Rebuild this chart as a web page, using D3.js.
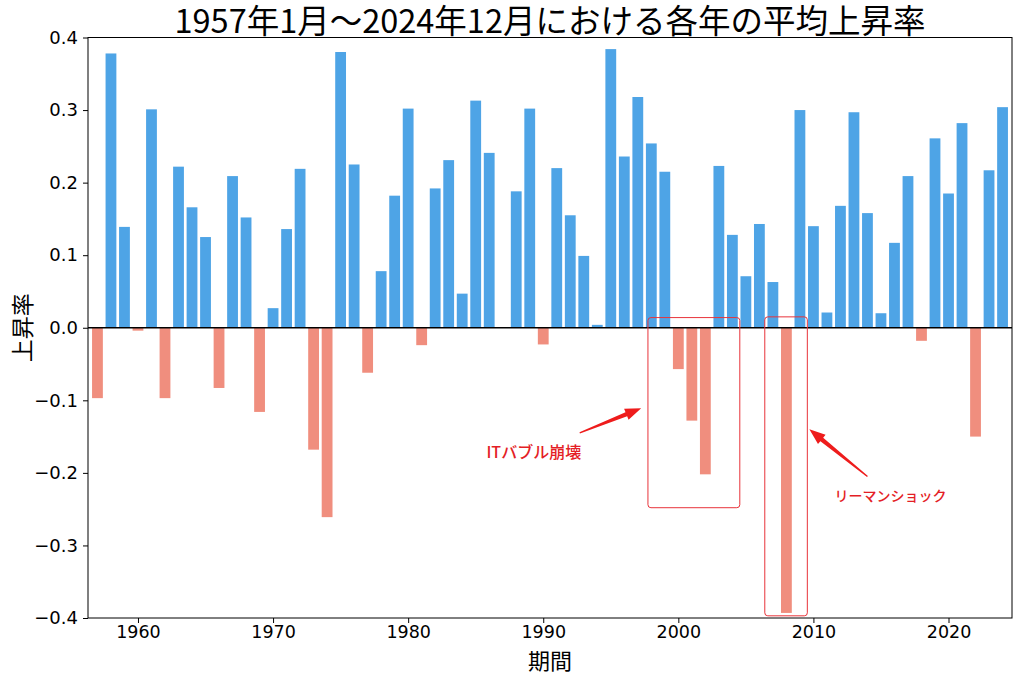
<!DOCTYPE html>
<html>
<head>
<meta charset="utf-8">
<script src="https://cdn.jsdelivr.net/npm/d3@7"></script>
<style>
  body { margin: 0; background: #fff; }
  svg text { font-family: "DejaVu Sans", sans-serif; }
  .jp { font-family: "Noto Sans CJK JP", sans-serif; }
</style>
</head>
<body>
<svg id="chart" width="1024" height="680"></svg>
<script>
// years 1957..2024 and average monthly rise per year
var years = d3.range(1957, 2025);
var rates = [
  -0.097, 0.378, 0.139, -0.004, 0.301, -0.097, 0.222, 0.166, 0.125, -0.083,
  0.209, 0.152, -0.116, 0.027, 0.136, 0.219, -0.168, -0.261, 0.380, 0.225,
  -0.062, 0.078, 0.182, 0.302, -0.024, 0.192, 0.231, 0.047, 0.313, 0.241,
  0.000, 0.188, 0.302, -0.023, 0.220, 0.155, 0.099, 0.004, 0.384, 0.236,
  0.318, 0.254, 0.215, -0.057, -0.128, -0.202, 0.223, 0.128, 0.071, 0.143,
  0.063, -0.393, 0.300, 0.140, 0.021, 0.168, 0.297, 0.158, 0.020, 0.117,
  0.209, -0.018, 0.261, 0.185, 0.282, -0.150, 0.217, 0.304
];
var xTicks = [1960, 1970, 1980, 1990, 2000, 2010, 2020];
var yTicks = [0.4, 0.3, 0.2, 0.1, 0.0, -0.1, -0.2, -0.3, -0.4];

// highlight boxes [x0, x1, yTop, yBottom] in data units
var boxes = [
  [1997.75, 2004.55, 0.014, -0.248],
  [2006.4, 2009.55, 0.015, -0.397]
];
// annotations: label, text position, arrow tail, arrow head (data units)
var notes = [
  { label: "ITバブル崩壊", size: 16, tx: 1989.3, ty: -0.179, from: [1992.7, -0.145], to: [1997.25, -0.111] },
  { label: "リーマンショック", size: 14, tx: 2015.7, ty: -0.239, from: [2014.0, -0.205], to: [2009.7, -0.140] }
];

var svg = d3.select("#chart");
var mLeft = 88, mRight = 1012, mTop = 37.5, mBottom = 618;

var x = d3.scaleLinear().domain([1956.3, 2024.7]).range([mLeft, mRight]);
var y = d3.scaleLinear().domain([-0.4, 0.4]).range([mBottom, mTop]);
var barW = x(1957.8) - x(1957);

var bars = svg.append("g");
bars.selectAll("rect")
  .data(years)
  .enter()
  .append("rect")
  .attr("x", function (d) { return x(d) - barW / 2; })
  .attr("width", barW)
  .attr("y", function (d, i) { return y(Math.max(0, rates[i])); })
  .attr("height", function (d, i) { return Math.abs(y(rates[i]) - y(0)); })
  .attr("fill", function (d, i) { return rates[i] >= 0 ? "#4ea4e6" : "#f08e7e"; });

// zero line
svg.append("line")
  .attr("x1", mLeft).attr("x2", mRight)
  .attr("y1", y(0)).attr("y2", y(0))
  .attr("stroke", "#000").attr("stroke-width", 1.6);

// axes
var xAxis = d3.axisBottom(x).tickValues(xTicks).tickFormat(d3.format("d")).tickSizeOuter(0).tickSize(5).tickPadding(3);
var yAxis = d3.axisLeft(y).tickValues(yTicks).tickFormat(function (d) {
  return d3.format(".1f")(d).replace("-", "\u2212");
}).tickSizeOuter(0).tickSize(5).tickPadding(5);

var gx = svg.append("g").attr("transform", "translate(0," + mBottom + ")").call(xAxis);
var gy = svg.append("g").attr("transform", "translate(" + mLeft + ",0)").call(yAxis);
gx.selectAll("text").attr("font-size", 17.5).attr("font-family", "Noto Sans CJK JP");
gy.selectAll("text").attr("font-size", 18).attr("font-family", "DejaVu Sans");
[gx, gy].forEach(function (g) {
  g.selectAll("text").attr("fill", "#000");
  g.selectAll("line").attr("stroke", "#000");
  g.select(".domain").remove();
});

// frame
svg.append("rect")
  .attr("x", mLeft).attr("y", mTop)
  .attr("width", mRight - mLeft).attr("height", mBottom - mTop)
  .attr("fill", "none").attr("stroke", "#000").attr("stroke-width", 1);

// titles
svg.append("text").attr("class", "jp")
  .attr("x", (mLeft + mRight) / 2).attr("y", 33)
  .attr("text-anchor", "middle").attr("font-size", 32.5)
  .text("1957年1月～2024年12月における各年の平均上昇率");
svg.append("text").attr("class", "jp")
  .attr("x", (mLeft + mRight) / 2).attr("y", 669)
  .attr("text-anchor", "middle").attr("font-size", 22)
  .text("期間");
svg.append("text").attr("class", "jp")
  .attr("transform", "translate(31," + y(0) + ") rotate(-90)")
  .attr("text-anchor", "middle").attr("font-size", 23)
  .text("上昇率");

// highlight boxes
svg.append("g").selectAll("rect")
  .data(boxes)
  .enter()
  .append("rect")
  .attr("x", function (d) { return x(d[0]); })
  .attr("y", function (d) { return y(d[2]); })
  .attr("width", function (d) { return x(d[1]) - x(d[0]); })
  .attr("height", function (d) { return y(d[3]) - y(d[2]); })
  .attr("rx", 3)
  .attr("fill", "none").attr("stroke", "#e8333a").attr("stroke-width", 1);

// arrows as tapered wedges
function wedge(p0, p1) {
  var dx = p1[0] - p0[0], dy = p1[1] - p0[1];
  var len = Math.sqrt(dx * dx + dy * dy);
  var ux = dx / len, uy = dy / len, nx = -uy, ny = ux;
  var headL = 16, headW = 6, tailW = 0.7, shaftW = 2.2;
  var bx = p1[0] - ux * headL, by = p1[1] - uy * headL;
  var pts = [
    [p0[0] + nx * tailW, p0[1] + ny * tailW],
    [bx + nx * shaftW, by + ny * shaftW],
    [bx + nx * headW, by + ny * headW],
    p1,
    [bx - nx * headW, by - ny * headW],
    [bx - nx * shaftW, by - ny * shaftW],
    [p0[0] - nx * tailW, p0[1] - ny * tailW]
  ];
  return "M" + pts.map(function (p) { return p.join(","); }).join("L") + "Z";
}

var ann = svg.append("g");
notes.forEach(function (n) {
  ann.append("path")
    .attr("d", wedge([x(n.from[0]), y(n.from[1])], [x(n.to[0]), y(n.to[1])]))
    .attr("fill", "#ee1c1c");
  ann.append("text").attr("class", "jp")
    .attr("x", x(n.tx)).attr("y", y(n.ty))
    .attr("text-anchor", "middle").attr("font-size", n.size)
    .attr("font-weight", 500)
    .attr("fill", "#e41e26")
    .text(n.label);
});
</script>
</body>
</html>
